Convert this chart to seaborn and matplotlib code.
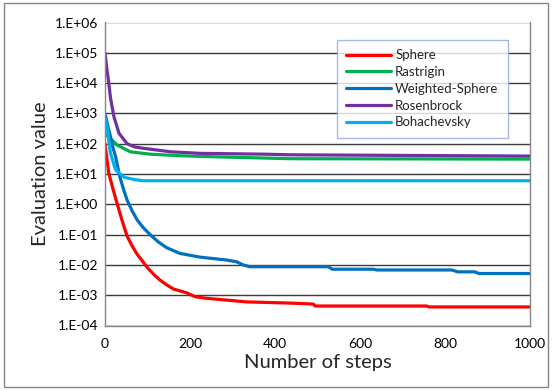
import numpy as np
import pandas as pd
import matplotlib
matplotlib.use("Agg")
import matplotlib.pyplot as plt
from matplotlib.patches import Rectangle
import seaborn as sns

# values (step, evaluation value)
sphere_x = [0, 4, 9, 18, 29, 40, 52, 64, 76, 88, 100, 115, 129, 145, 161, 192, 212, 239,
            286, 333, 435, 490, 495, 757, 762, 1000]
sphere_y = [100, 35, 10.5, 3.5, 1.0, 0.3, 0.089, 0.042, 0.022, 0.0135, 0.008, 0.0048,
            0.0032, 0.0022, 0.0016, 0.0012, 0.00089, 0.00079, 0.00069, 0.0006, 0.00055,
            0.00051, 0.00044, 0.00044, 0.00041, 0.00041]

rastrigin_x = [0, 6, 13, 29, 60, 107, 178, 224, 435, 1000]
rastrigin_y = [220, 180, 148, 89, 54, 45, 40, 38, 32, 31]

wsphere_x = [0, 6, 13, 19, 25, 35, 44, 52, 64, 76, 90, 106, 125, 145, 176, 224, 286, 310,
             325, 341, 525, 535, 630, 640, 816, 830, 870, 880, 1000]
wsphere_y = [1000, 420, 170, 72, 37, 8, 3, 1.38, 0.6, 0.3, 0.17, 0.1, 0.058, 0.037, 0.024,
             0.018, 0.0145, 0.0126, 0.01, 0.0087, 0.0087, 0.0072, 0.0072, 0.0068, 0.0068,
             0.0059, 0.0059, 0.0052, 0.0052]

rosen_x = [0, 4, 8, 13, 21, 33, 52, 70, 92, 155, 224, 380, 435, 1000]
rosen_y = [100000, 32000, 12600, 3200, 780, 220, 100, 78, 70, 54, 48, 45, 43, 39]

boha_x = [0, 5, 9, 13, 25, 45, 70, 90, 1000]
boha_y = [700, 360, 120, 48, 13.5, 7.8, 6.5, 6.0, 6.0]

names = ["Sphere", "Rastrigin", "Weighted-Sphere", "Rosenbrock", "Bohachevsky"]
colors = ["#FF0000", "#00B050", "#0070C0", "#7030A0", "#00B0F0"]
yticks = [1e-4, 1e-3, 1e-2, 1e-1, 1e0, 1e1, 1e2, 1e3, 1e4, 1e5, 1e6]
ylabels = ["1.E-04", "1.E-03", "1.E-02", "1.E-01", "1.E+00", "1.E+01",
           "1.E+02", "1.E+03", "1.E+04", "1.E+05", "1.E+06"]
xticks = [0, 200, 400, 600, 800, 1000]

series = [(sphere_x, sphere_y), (rastrigin_x, rastrigin_y), (wsphere_x, wsphere_y),
          (rosen_x, rosen_y), (boha_x, boha_y)]
frames = []
for name, (xs, ys) in zip(names, series):
    frames.append(pd.DataFrame({"step": xs, "value": ys, "func": name}))
df = pd.concat(frames, ignore_index=True)

sns.set_style("white")
plt.rcParams["font.family"] = ["Lato", "DejaVu Sans"]

fig = plt.figure(figsize=(5.52, 3.91), dpi=100)
ax = fig.add_axes([105 / 552, 1 - 325.5 / 391, 425 / 552, 303 / 391])

sns.lineplot(data=df, x="step", y="value", hue="func", hue_order=names,
             palette=dict(zip(names, colors)), linewidth=2.3, ax=ax,
             estimator=None, sort=False)
for ln in ax.get_lines():
    ln.set_solid_joinstyle("round")

ax.set_yscale("log")
ax.set_ylim(1e-4, 1e6)
ax.set_xlim(0, 1000)
ax.set_yticks(yticks)
ax.set_yticklabels(ylabels)
ax.yaxis.set_minor_locator(matplotlib.ticker.NullLocator())
ax.set_xticks(xticks)
ax.tick_params(axis="both", labelsize=10, colors="#404040", length=0, pad=5)
ax.tick_params(axis="x", length=4, direction="out", color="#868686")
for lab in ax.get_xticklabels() + ax.get_yticklabels():
    lab.set_color("black")
ax.grid(axis="y", color="#3a3a3a", linewidth=1)
ax.set_axisbelow(True)

for s in ["left", "bottom", "right"]:
    ax.spines[s].set_color("#868686")
    ax.spines[s].set_linewidth(1)
ax.spines["top"].set_visible(False)

ax.set_xlabel("Number of steps", fontsize=14.5, labelpad=3)
ax.set_ylabel("Evaluation value", fontsize=14.5, labelpad=4)

leg = ax.legend(loc="upper left", bbox_to_anchor=(0.546, 0.942), borderaxespad=0,
                fontsize=9.5, frameon=True, fancybox=False, handlelength=3.4,
                handletextpad=0.3, labelspacing=0.36, borderpad=0.7)
leg.get_frame().set_edgecolor("#8EA9DB")
leg.get_frame().set_linewidth(1)
for h in leg.get_lines():
    h.set_linewidth(2.3)

fig.patches.append(Rectangle((4 / 552, 4 / 391), 544 / 552, 384 / 391,
                             transform=fig.transFigure, fill=False,
                             edgecolor="#868686", linewidth=1))

fig.savefig("out.png", dpi=100)
